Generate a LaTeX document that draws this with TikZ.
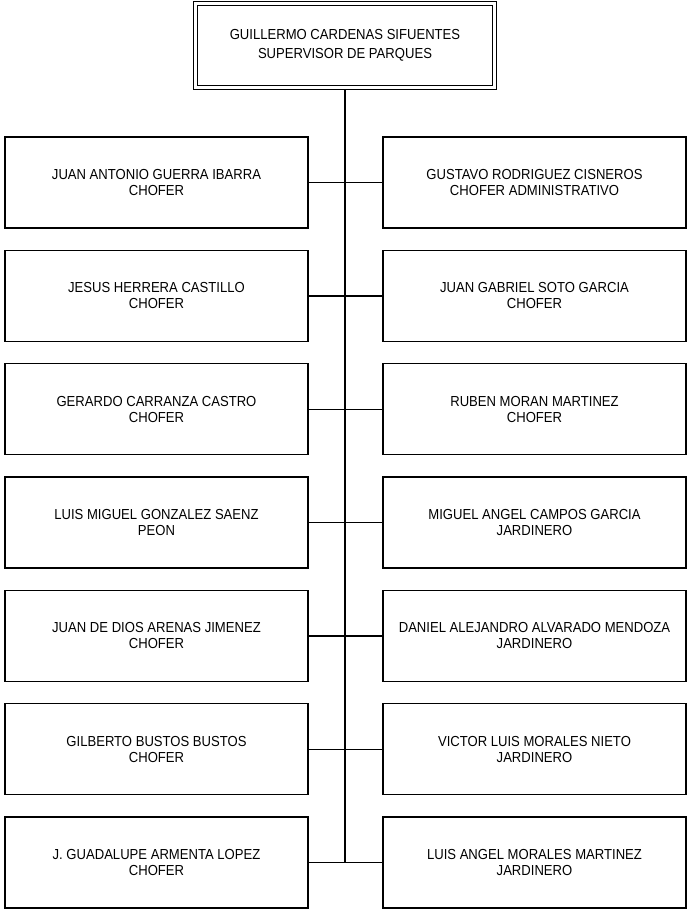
\documentclass[tikz,border=0pt]{standalone}
\usepackage{fontspec}
\setmainfont{Liberation Sans}[FakeStretch=0.9]
\usetikzlibrary{positioning}

\begin{document}
\begin{tikzpicture}[
  x=0.75pt, y=-0.75pt,
  box/.style={draw, line width=1.1pt, align=center, minimum width=227.25pt, minimum height=68.25pt, inner sep=0pt, outer sep=0pt, font=\fontsize{10.9}{12}\selectfont},
  boss/.style={box, minimum width=223.8pt, minimum height=62.85pt, double, double distance=2.2pt, line width=0.9pt, outer sep=2pt, font=\fontsize{10.9}{14.6}\selectfont},
  trunk/.style={line width=2.2pt},
  link/.style={line width=1pt},
  node distance=16.75pt and 56.25pt
]
\useasboundingbox (0,0) rectangle (687,911);

\node[boss] (sup) at (345,45.5) {GUILLERMO CARDENAS SIFUENTES\\SUPERVISOR DE PARQUES};

\node[box] (l1) at (156.5,182.5) {JUAN ANTONIO GUERRA IBARRA\\CHOFER};
\node[box, below=of l1] (l2) {JESUS HERRERA CASTILLO\\CHOFER};
\node[box, below=of l2] (l3) {GERARDO CARRANZA CASTRO\\CHOFER};
\node[box, below=of l3] (l4) {LUIS MIGUEL GONZALEZ SAENZ\\PEON};
\node[box, below=of l4] (l5) {JUAN DE DIOS ARENAS JIMENEZ\\CHOFER};
\node[box, below=of l5] (l6) {GILBERTO BUSTOS BUSTOS\\CHOFER};
\node[box, below=of l6] (l7) {J. GUADALUPE ARMENTA LOPEZ\\CHOFER};

\node[box, right=of l1] (r1) {GUSTAVO RODRIGUEZ CISNEROS\\CHOFER ADMINISTRATIVO};
\node[box, right=of l2] (r2) {JUAN GABRIEL SOTO GARCIA\\CHOFER};
\node[box, right=of l3] (r3) {RUBEN MORAN MARTINEZ\\CHOFER};
\node[box, right=of l4] (r4) {MIGUEL ANGEL CAMPOS GARCIA\\JARDINERO};
\node[box, right=of l5] (r5) {DANIEL ALEJANDRO ALVARADO MENDOZA\\JARDINERO};
\node[box, right=of l6] (r6) {VICTOR LUIS MORALES NIETO\\JARDINERO};
\node[box, right=of l7] (r7) {LUIS ANGEL MORALES MARTINEZ\\JARDINERO};

\draw[trunk] (sup.south) -- (sup.south |- l7.east);
\foreach \i in {1,...,7}
  \draw[link] (l\i) -- (r\i);
\end{tikzpicture}
\end{document}
